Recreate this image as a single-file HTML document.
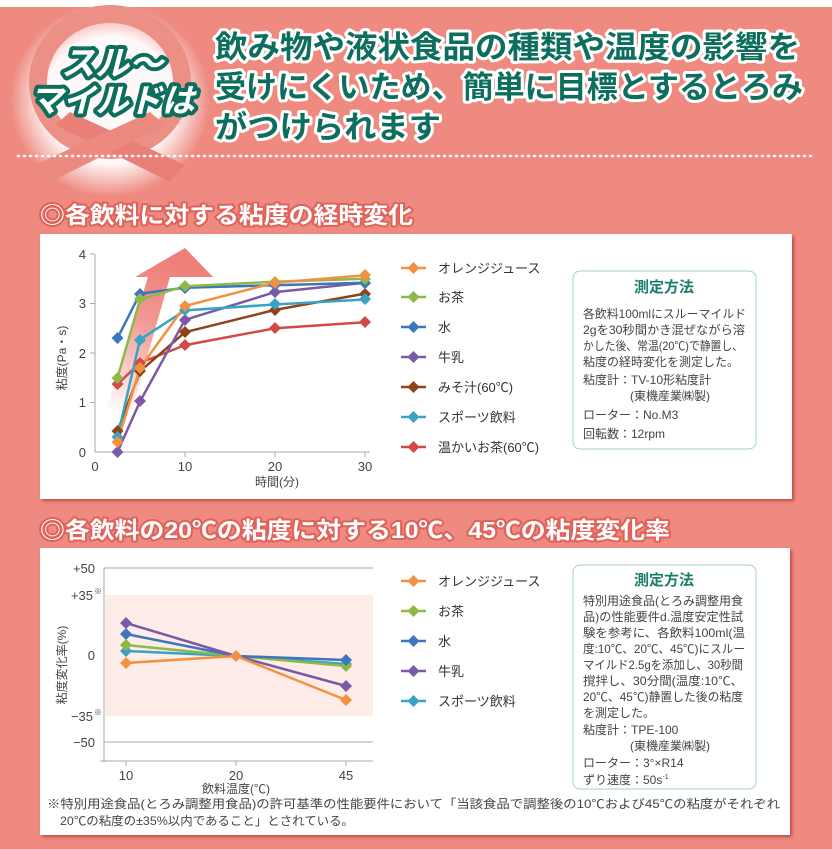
<!DOCTYPE html>
<html><head><meta charset="utf-8"><style>
body{margin:0;width:832px;height:849px;overflow:hidden;background:#ee8a80}
svg{display:block}
text{font-family:"Liberation Sans","Noto Sans CJK JP",sans-serif}
</style></head><body>
<svg width="832" height="849" viewBox="0 0 832 849" xmlns="http://www.w3.org/2000/svg">
<defs>
<radialGradient id="glow" cx="50%" cy="50%" r="50%"><stop offset="65%" stop-color="#fff" stop-opacity="0.95"/><stop offset="100%" stop-color="#fff" stop-opacity="0"/></radialGradient>
<linearGradient id="arr" x1="0" y1="1" x2="0.3" y2="0"><stop offset="0" stop-color="#e8564c" stop-opacity="0"/><stop offset="0.6" stop-color="#e8564c" stop-opacity="0.6"/><stop offset="1" stop-color="#e8564c" stop-opacity="0.75"/></linearGradient>
<filter id="sh" x="-5%" y="-5%" width="110%" height="115%"><feDropShadow dx="2" dy="2" stdDeviation="1.5" flood-color="#b23a33" flood-opacity="0.8"/></filter>
</defs>
<rect x="0" y="0" width="832" height="7" fill="#fff"/>
<!-- ribbon logo -->
<ellipse cx="110" cy="100" rx="100" ry="97" fill="url(#glow)"/>
<ellipse cx="110" cy="82" rx="72" ry="68" fill="none" stroke="#ec8f85" stroke-width="18"/>
<path d="M55 125 L170 182 L185 165 L70 112Z" fill="#e98077"/>
<path d="M165 125 L50 182 L35 165 L150 112Z" fill="#ec8a80"/>
<text x="112" y="75" text-anchor="middle" font-size="34" font-weight="bold" font-style="italic" fill="#fff" stroke="#0e6e5e" stroke-width="8" paint-order="stroke" stroke-linejoin="round">スル～</text>
<text x="112" y="112" text-anchor="middle" font-size="33" font-weight="bold" font-style="italic" fill="#fff" stroke="#0e6e5e" stroke-width="8" paint-order="stroke" stroke-linejoin="round">マイルドは</text>
<!-- header -->
<g font-size="31" font-weight="bold" fill="#0e6e5e" stroke="#fff" stroke-width="6" paint-order="stroke" stroke-linejoin="round">
<text x="215" y="58" textLength="585" lengthAdjust="spacingAndGlyphs">飲み物や液状食品の種類や温度の影響を</text>
<text x="215" y="98" textLength="588" lengthAdjust="spacingAndGlyphs">受けにくいため、簡単に目標とするとろみ</text>
<text x="215" y="138" textLength="226" lengthAdjust="spacingAndGlyphs">がつけられます</text>
</g>
<line x1="18" y1="156" x2="815" y2="156" stroke="#fff" stroke-width="2.5" stroke-dasharray="1 5" stroke-linecap="round"/>
<!-- section titles -->
<g font-size="23" font-weight="bold" fill="#fff" stroke="#e0625a" stroke-width="4" paint-order="stroke" stroke-linejoin="round">
<text x="40" y="223" textLength="373" lengthAdjust="spacingAndGlyphs">◎各飲料に対する粘度の経時変化</text>
<text x="40" y="538" textLength="630" lengthAdjust="spacingAndGlyphs">◎各飲料の20℃の粘度に対する10℃、45℃の粘度変化率</text>
</g>
<!-- panels -->
<rect x="40" y="234" width="752" height="265" fill="#fff" filter="url(#sh)"/>
<rect x="40" y="548" width="750" height="287" fill="#fff" filter="url(#sh)"/>

<!-- chart 1 -->
<g stroke="#aaa" stroke-width="1">
<line x1="95" y1="254" x2="95" y2="452"/><line x1="95" y1="452" x2="370" y2="452"/>
<line x1="90" y1="254" x2="95" y2="254"/><line x1="90" y1="303.5" x2="95" y2="303.5"/><line x1="90" y1="353" x2="95" y2="353"/><line x1="90" y1="402.5" x2="95" y2="402.5"/>
<line x1="185" y1="452" x2="185" y2="457"/><line x1="275" y1="452" x2="275" y2="457"/><line x1="365" y1="452" x2="365" y2="457"/>
</g>
<g font-size="13" fill="#444">
<text x="86" y="259" text-anchor="end">4</text><text x="86" y="308" text-anchor="end">3</text><text x="86" y="358" text-anchor="end">2</text><text x="86" y="407" text-anchor="end">1</text><text x="86" y="457" text-anchor="end">0</text>
<text x="95" y="471" text-anchor="middle">0</text><text x="185" y="471" text-anchor="middle">10</text><text x="275" y="471" text-anchor="middle">20</text><text x="365" y="471" text-anchor="middle">30</text>
</g>
<text x="255" y="486" font-size="12" fill="#444">時間(分)</text>
<text transform="translate(66 358) rotate(-90)" font-size="12" fill="#444" text-anchor="middle">粘度(Pa・s)</text>
<polygon points="106,410 132,410 170,277 213,277 185,248 135,277 148,277" fill="url(#arr)"/>
<g fill="none" stroke-width="2.5" stroke-linejoin="round">
<polyline stroke="#d14a46" points="117.5,384.2 140,362.9 185,345.1 275,328.3 365,322.3"/>
<polyline stroke="#8c4418" points="117.5,431.2 140,371.3 185,332.2 275,309.9 365,293.6"/>
<polyline stroke="#7a5aa6" points="117.5,452 140,401.5 185,319.8 275,292.1 365,282.7"/>
<polyline stroke="#38a3c4" points="117.5,437 140,339.6 185,310.4 275,304.5 365,299.5"/>
<polyline stroke="#3d76ba" points="117.5,338.2 140,293.6 185,287.7 275,285.2 365,282.7"/>
<polyline stroke="#8fb84a" points="117.5,377.8 140,299.5 185,286.2 275,281.7 365,278.8"/>
<polyline stroke="#f39142" points="117.5,442.1 140,367.9 185,306 275,282.7 365,275.3"/>
</g>
<g>
<path fill="#d14a46" d="M117.5 378l6 6-6 6-6-6z M140 357l6 6-6 6-6-6z M185 339l6 6-6 6-6-6z M275 322l6 6-6 6-6-6z M365 316l6 6-6 6-6-6z"/>
<path fill="#8c4418" d="M117.5 425l6 6-6 6-6-6z M140 365l6 6-6 6-6-6z M185 326l6 6-6 6-6-6z M275 304l6 6-6 6-6-6z M365 288l6 6-6 6-6-6z"/>
<path fill="#7a5aa6" d="M117.5 446l6 6-6 6-6-6z M140 395l6 6-6 6-6-6z M185 314l6 6-6 6-6-6z M275 286l6 6-6 6-6-6z M365 277l6 6-6 6-6-6z"/>
<path fill="#38a3c4" d="M117.5 431l6 6-6 6-6-6z M140 334l6 6-6 6-6-6z M185 304l6 6-6 6-6-6z M275 298l6 6-6 6-6-6z M365 293l6 6-6 6-6-6z"/>
<path fill="#3d76ba" d="M117.5 332l6 6-6 6-6-6z M140 288l6 6-6 6-6-6z M185 282l6 6-6 6-6-6z M275 279l6 6-6 6-6-6z M365 277l6 6-6 6-6-6z"/>
<path fill="#8fb84a" d="M117.5 372l6 6-6 6-6-6z M140 293l6 6-6 6-6-6z M185 280l6 6-6 6-6-6z M275 276l6 6-6 6-6-6z M365 273l6 6-6 6-6-6z"/>
<path fill="#f39142" d="M117.5 436l6 6-6 6-6-6z M140 362l6 6-6 6-6-6z M185 300l6 6-6 6-6-6z M275 277l6 6-6 6-6-6z M365 269l6 6-6 6-6-6z"/>
</g>
<!-- legend 1 -->
<g font-size="13" fill="#333" stroke-width="2.5">
<line x1="401" y1="268" x2="426" y2="268" stroke="#f39142"/><path d="M413.5 262l6 6-6 6-6-6z" fill="#f39142"/><text x="438" y="273">オレンジジュース</text>
<line x1="401" y1="297" x2="426" y2="297" stroke="#8fb84a"/><path d="M413.5 291l6 6-6 6-6-6z" fill="#8fb84a"/><text x="438" y="302">お茶</text>
<line x1="401" y1="327" x2="426" y2="327" stroke="#3d76ba"/><path d="M413.5 321l6 6-6 6-6-6z" fill="#3d76ba"/><text x="438" y="332">水</text>
<line x1="401" y1="357" x2="426" y2="357" stroke="#7a5aa6"/><path d="M413.5 351l6 6-6 6-6-6z" fill="#7a5aa6"/><text x="438" y="362">牛乳</text>
<line x1="401" y1="387" x2="426" y2="387" stroke="#8c4418"/><path d="M413.5 381l6 6-6 6-6-6z" fill="#8c4418"/><text x="438" y="392">みそ汁(60℃)</text>
<line x1="401" y1="417" x2="426" y2="417" stroke="#38a3c4"/><path d="M413.5 411l6 6-6 6-6-6z" fill="#38a3c4"/><text x="438" y="422">スポーツ飲料</text>
<line x1="401" y1="447" x2="426" y2="447" stroke="#d14a46"/><path d="M413.5 441l6 6-6 6-6-6z" fill="#d14a46"/><text x="438" y="452">温かいお茶(60℃)</text>
</g>
<!-- box 1 -->
<rect x="573" y="271" width="183" height="178" rx="7" fill="#fff" stroke="#a9cfc7" stroke-width="1"/>
<text x="664" y="292" font-size="15" font-weight="bold" fill="#1b7e6c" text-anchor="middle">測定方法</text>
<g font-size="12" fill="#444">
<text x="583" y="318" textLength="163" lengthAdjust="spacingAndGlyphs">各飲料100mlにスルーマイルド</text>
<text x="583" y="334" textLength="162" lengthAdjust="spacingAndGlyphs">2gを30秒間かき混ぜながら溶</text>
<text x="583" y="350" textLength="160" lengthAdjust="spacingAndGlyphs">かした後、常温(20℃)で静置し、</text>
<text x="583" y="366">粘度の経時変化を測定した。</text>
<text x="583" y="384">粘度計：TV-10形粘度計</text>
<text x="630" y="400">(東機産業㈱製)</text>
<text x="583" y="419">ローター：No.M3</text>
<text x="583" y="438">回転数：12rpm</text>
</g>

<!-- chart 2 -->
<rect x="105" y="595" width="268" height="121" fill="#fdece8"/>
<g stroke="#aaa" stroke-width="1">
<line x1="104" y1="568" x2="104" y2="762"/>
<line x1="104" y1="568" x2="373" y2="568"/>
<line x1="104" y1="742" x2="373" y2="742"/>
<line x1="100" y1="761" x2="373" y2="761"/>
<line x1="126" y1="761" x2="126" y2="766"/><line x1="236" y1="761" x2="236" y2="766"/><line x1="346" y1="761" x2="346" y2="766"/>
</g>
<g font-size="13" fill="#444">
<text x="95" y="573" text-anchor="end">+50</text>
<text x="93" y="600" text-anchor="end">+35</text><text x="94" y="594" font-size="8">※</text>
<text x="95" y="660" text-anchor="end">0</text>
<text x="93" y="721" text-anchor="end">−35</text><text x="94" y="715" font-size="8">※</text>
<text x="95" y="747" text-anchor="end">−50</text>
<text x="126" y="780" text-anchor="middle">10</text><text x="236" y="780" text-anchor="middle">20</text><text x="346" y="780" text-anchor="middle">45</text>
</g>
<text x="236" y="793" font-size="12" fill="#444" text-anchor="middle">飲料温度(℃)</text>
<text transform="translate(66 665) rotate(-90)" font-size="12" fill="#444" text-anchor="middle">粘度変化率(%)</text>
<g fill="none" stroke-width="2.5">
<polyline stroke="#38a3c4" points="126,651 236,656 346,664"/>
<polyline stroke="#8fb84a" points="126,645 236,656 346,666"/>
<polyline stroke="#3d76ba" points="126,634 236,656 346,660"/>
<polyline stroke="#7a5aa6" points="126,623 236,656 346,686"/>
<polyline stroke="#f39142" points="126,663 236,656 346,700"/>
</g>
<path fill="#38a3c4" d="M126 645l6 6-6 6-6-6z M346 658l6 6-6 6-6-6z"/>
<path fill="#8fb84a" d="M126 639l6 6-6 6-6-6z M346 660l6 6-6 6-6-6z"/>
<path fill="#3d76ba" d="M126 628l6 6-6 6-6-6z M346 654l6 6-6 6-6-6z"/>
<path fill="#7a5aa6" d="M126 617l6 6-6 6-6-6z M346 680l6 6-6 6-6-6z"/>
<path fill="#f39142" d="M126 657l6 6-6 6-6-6z M236 650l6 6-6 6-6-6z M346 694l6 6-6 6-6-6z"/>
<!-- legend 2 -->
<g font-size="13" fill="#333" stroke-width="2.5">
<line x1="401" y1="581" x2="426" y2="581" stroke="#f39142"/><path d="M413.5 575l6 6-6 6-6-6z" fill="#f39142"/><text x="438" y="586">オレンジジュース</text>
<line x1="401" y1="611" x2="426" y2="611" stroke="#8fb84a"/><path d="M413.5 605l6 6-6 6-6-6z" fill="#8fb84a"/><text x="438" y="616">お茶</text>
<line x1="401" y1="641" x2="426" y2="641" stroke="#3d76ba"/><path d="M413.5 635l6 6-6 6-6-6z" fill="#3d76ba"/><text x="438" y="646">水</text>
<line x1="401" y1="671" x2="426" y2="671" stroke="#7a5aa6"/><path d="M413.5 665l6 6-6 6-6-6z" fill="#7a5aa6"/><text x="438" y="676">牛乳</text>
<line x1="401" y1="701" x2="426" y2="701" stroke="#38a3c4"/><path d="M413.5 695l6 6-6 6-6-6z" fill="#38a3c4"/><text x="438" y="706">スポーツ飲料</text>
</g>
<!-- box 2 -->
<rect x="573" y="565" width="183" height="224" rx="7" fill="#fff" stroke="#a9cfc7" stroke-width="1"/>
<text x="664" y="585" font-size="15" font-weight="bold" fill="#1b7e6c" text-anchor="middle">測定方法</text>
<g font-size="12" fill="#444">
<text x="583" y="605" textLength="160" lengthAdjust="spacingAndGlyphs">特別用途食品(とろみ調整用食</text>
<text x="583" y="621" textLength="160" lengthAdjust="spacingAndGlyphs">品)の性能要件d.温度安定性試</text>
<text x="583" y="637" textLength="162" lengthAdjust="spacingAndGlyphs">験を参考に、各飲料100ml(温</text>
<text x="583" y="653" textLength="162" lengthAdjust="spacingAndGlyphs">度:10℃、20℃、45℃)にスルー</text>
<text x="583" y="669" textLength="160" lengthAdjust="spacingAndGlyphs">マイルド2.5gを添加し、30秒間</text>
<text x="583" y="685" textLength="160" lengthAdjust="spacingAndGlyphs">撹拌し、30分間(温度:10℃、</text>
<text x="583" y="701" textLength="160" lengthAdjust="spacingAndGlyphs">20℃、45℃)静置した後の粘度</text>
<text x="583" y="717">を測定した。</text>
<text x="583" y="734">粘度計：TPE-100</text>
<text x="630" y="750">(東機産業㈱製)</text>
<text x="583" y="767">ローター：3°×R14</text>
<text x="583" y="784">ずり速度：50s<tspan font-size="7" dy="-5">-1</tspan></text>
</g>
<g font-size="12" fill="#444">
<text x="47" y="808" textLength="733" lengthAdjust="spacingAndGlyphs">※特別用途食品(とろみ調整用食品)の許可基準の性能要件において「当該食品で調整後の10℃および45℃の粘度がそれぞれ</text>
<text x="60" y="825" textLength="294" lengthAdjust="spacingAndGlyphs">20℃の粘度の±35%以内であること」とされている。</text>
</g>
</svg>
</body></html>
